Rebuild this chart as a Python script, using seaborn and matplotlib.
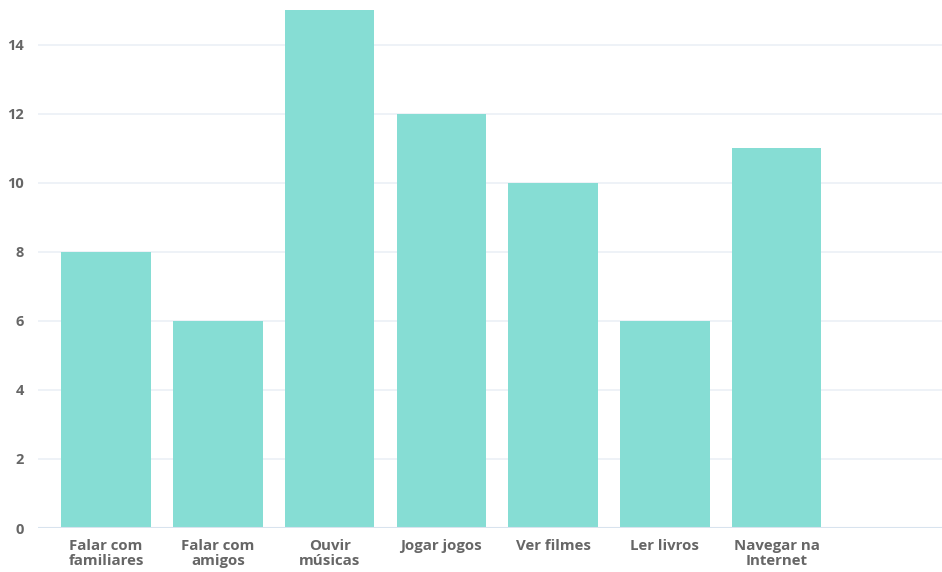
import matplotlib
matplotlib.use("Agg")
import matplotlib.pyplot as plt
import seaborn as sns
import pandas as pd

categories = ["Falar com\nfamiliares", "Falar com\namigos", "Ouvir\nmúsicas",
              "Jogar jogos", "Ver filmes", "Ler livros", "Navegar na\nInternet"]
values = [8, 6, 15, 12, 10, 6, 11]
yticks = [0, 2, 4, 6, 8, 10, 12, 14]

df = pd.DataFrame({"atividade": categories, "valor": values})

sns.set_theme(style="white")
plt.rcParams['font.family'] = ['Open Sans', 'DejaVu Sans']

fig = plt.figure(figsize=(9.42, 5.72), dpi=100)
ax = fig.add_axes([38 / 942, 44 / 572, 904 / 942, 528 / 572])

sns.barplot(data=df, x="atividade", y="valor", color="#86DDD4",
            saturation=1, width=0.8, linewidth=0, ax=ax, zorder=3)

ax.set_xlim(-0.61, 7.48)
ax.set_ylim(0, 15.3)
ax.set_yticks(yticks)
ax.grid(axis="y", color="#EBF0F6", linewidth=1.2, zorder=0)
ax.axhline(0, color="#D8E3EE", linewidth=1.5, zorder=4)
for s in ax.spines.values():
    s.set_visible(False)

ax.set_xlabel("")
ax.set_ylabel("")
ax.tick_params(axis="both", length=0, colors="#666666")
ax.tick_params(axis="y", pad=10)
ax.tick_params(axis="x", pad=8)
for lbl in ax.get_yticklabels():
    lbl.set_fontsize(10.5)
    lbl.set_fontweight("bold")
for lbl in ax.get_xticklabels():
    lbl.set_fontsize(10.8)
    lbl.set_fontweight("bold")
    lbl.set_linespacing(1.05)

fig.savefig("out.png", dpi=100)
